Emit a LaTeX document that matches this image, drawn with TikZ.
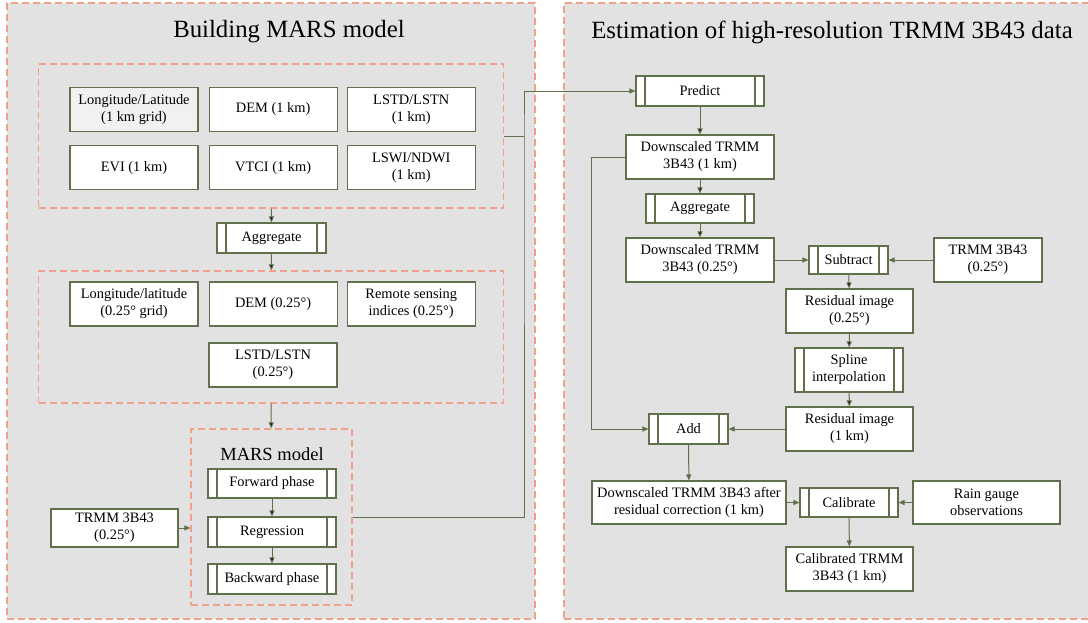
\documentclass[tikz,border=0pt]{standalone}
\usepackage{fontspec}
\setmainfont{Liberation Serif}
\usetikzlibrary{positioning, arrows.meta}
\definecolor{boxgreen}{RGB}{96,112,74}
\definecolor{dashred}{RGB}{240,160,140}
\definecolor{panelgray}{RGB}{226,226,226}
\definecolor{gridfill}{RGB}{242,241,240}

\begin{document}
\begin{tikzpicture}[x=1pt, y=-1pt,
    box/.style={draw=boxgreen, line width=1.1pt, fill=white, inner sep=0pt, align=center,
      minimum width=128pt, minimum height=44pt, font=\fontsize{14.4}{17}\selectfont},
    proc/.style={box, minimum height=30pt,
      path picture={\draw[boxgreen, line width=1.1pt]
        ([xshift=9pt]path picture bounding box.north west) -- ([xshift=9pt]path picture bounding box.south west)
        ([xshift=-9pt]path picture bounding box.north east) -- ([xshift=-9pt]path picture bounding box.south east);}},
    group/.style={draw=dashred, line width=1.2pt, dash pattern=on 7pt off 4pt, inner sep=0pt},
    panel/.style={group, fill=panelgray},
    title/.style={font=\fontsize{24.8}{29}\selectfont},
    arr/.style={draw=boxgreen, line width=1pt, -{Triangle[length=6pt,width=5pt]}},
    link/.style={draw=boxgreen, line width=1pt}]
        \useasboundingbox (0,0) rectangle (1088,622);

        \node[panel, minimum width=528pt, minimum height=616pt] (leftpanel) at (271,311) {};
        \node[panel, minimum width=532pt, minimum height=616pt] (rightpanel) at (830,311) {};
        \node[title] (lefttitle) at (289,32) {Building MARS model};
        \node[title] (righttitle) at (832,32) {Estimation of high-resolution TRMM 3B43 data};

        \node[group, minimum width=465pt, minimum height=144pt] (inputs1) at (271,136) {};
        \node[group, minimum width=465pt, minimum height=132pt] (inputs2) at (271,337) {};
        \node[group, minimum width=161pt, minimum height=176pt] (mars) at (271.5,517) {};

        \node[box, fill=gridfill] (lonlat1) at (134,109.5) {Longitude/Latitude\\(1 km grid)};
        \node[box] (dem1) [right=10pt of lonlat1] {DEM (1 km)};
        \node[box] (lst1) [right=9pt of dem1] {LSTD/LSTN\\(1 km)};
        \node[box] (evi1) [below=13pt of lonlat1] {EVI (1 km)};
        \node[box] (vtci1) [right=10pt of evi1] {VTCI (1 km)};
        \node[box] (lswi1) [right=9pt of vtci1] {LSWI/NDWI\\(1 km)};

        \node[proc, minimum width=109pt] (agg1) at (271.5,238) {Aggregate};

        \node[box] (lonlat2) at (134,304) {Longitude/latitude\\(0.25° grid)};
        \node[box] (dem2) [right=10pt of lonlat2] {DEM (0.25°)};
        \node[box] (rs2) [right=9pt of dem2] {Remote sensing\\indices (0.25°)};
        \node[box] (lst2) at (273,365) {LSTD/LSTN\\(0.25°)};

        \node[font=\fontsize{18.5}{22}\selectfont] (marstitle) at (272,454) {MARS model};
        \node[proc, minimum height=29pt] (forward) at (272,483.5) {Forward phase};
        \node[proc] (regress) at (272,532) {Regression};
        \node[proc] (backward) at (272,579) {Backward phase};
        \node[box, minimum width=127pt, minimum height=38pt] (trmml) at (114.5,528) {TRMM 3B43\\(0.25°)};

        \node[proc] (predict) at (700,91) {Predict};
        \node[box, minimum width=148pt] (ds1) at (700,157) {Downscaled TRMM\\3B43 (1 km)};
        \node[proc, minimum width=108pt, minimum height=29pt] (agg2) at (700,208.5) {Aggregate};
        \node[box, minimum width=148pt] (ds25) at (700,260) {Downscaled TRMM\\3B43 (0.25°)};
        \node[proc, minimum width=79pt, minimum height=28pt] (subtract) at (848.5,260) {Subtract};
        \node[box, minimum width=108pt] (trmmr) at (988,260) {TRMM 3B43\\(0.25°)};
        \node[box, minimum width=127pt] (res25) at (849.5,311) {Residual image\\(0.25°)};
        \node[proc, minimum width=108pt, minimum height=44pt] (spline) at (849,370) {Spline\\interpolation};
        \node[box, minimum width=127pt] (res1) at (849.5,429) {Residual image\\(1 km)};
        \node[proc, minimum width=79pt] (add) at (688.5,429) {Add};
        \node[box, minimum width=194pt, minimum height=43pt] (dsres) at (689,502.5) {Downscaled TRMM 3B43 after\\residual correction (1 km)};
        \node[proc, minimum width=98pt, minimum height=29pt] (calibrate) at (849,502.5) {Calibrate};
        \node[box, minimum width=147pt, minimum height=43pt] (rain) at (986.5,502.5) {Rain gauge\\observations};
        \node[box, minimum width=127pt] (calibrated) at (849.5,569) {Calibrated TRMM\\3B43 (1 km)};

        \coordinate (junction) at (524,136);

        \path[arr] (inputs1) edge (agg1) (agg1) edge (inputs2) (inputs2) edge (mars);
        \path[arr] (forward) edge (regress) (regress) edge (backward);
        \draw[arr] (trmml.east) -- (trmml.east -| mars.west);
        \draw[link] (inputs1.east) -- (junction);
        \draw[arr] (mars.east) -| (junction) |- (predict.west);

        \path[arr] (predict) edge (ds1) (ds1) edge (agg2) (agg2) edge (ds25);
        \draw[arr] (ds25) -- (subtract);
        \draw[arr] (trmmr) -- (subtract);
        \path[arr] (subtract) edge (res25) (res25) edge (spline) (spline) edge (res1);
        \draw[arr] (res1) -- (add);
        \draw[arr] (ds1.west) -- ++(-34,0) |- (add.west);
        \draw[arr] (add) -- (dsres);
        \draw[arr] (dsres) -- (calibrate);
        \draw[arr] (rain) -- (calibrate);
        \draw[arr] (calibrate) -- (calibrated);
\end{tikzpicture}
\end{document}
